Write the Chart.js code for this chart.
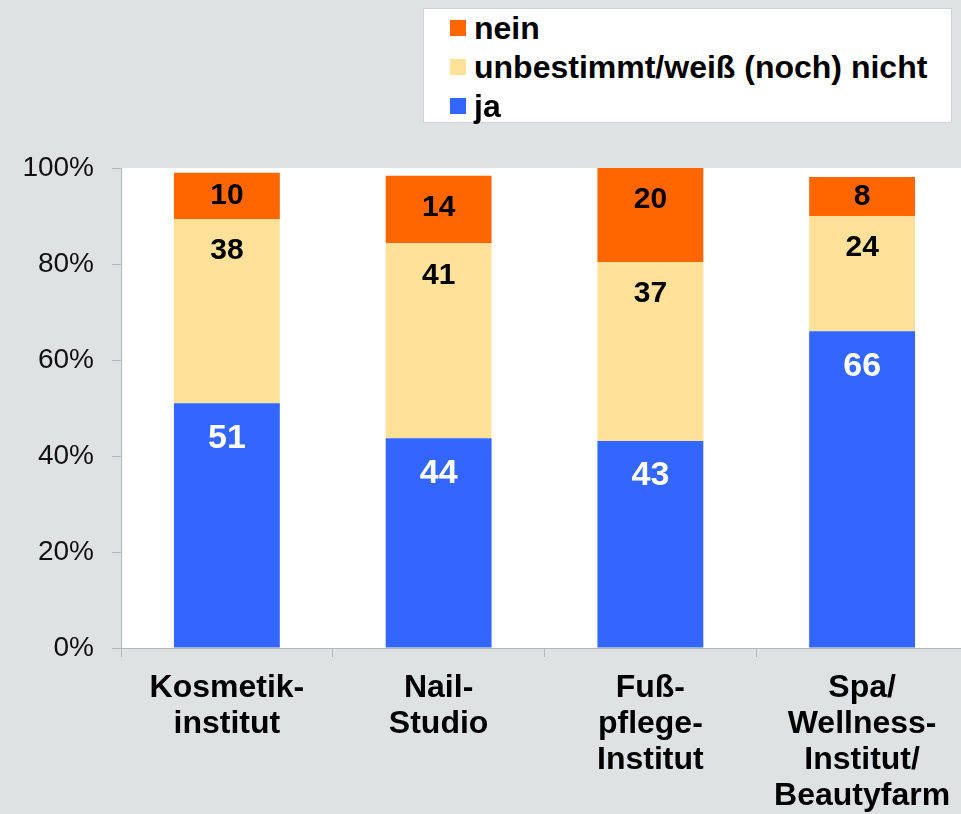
<!DOCTYPE html>
<html>
<head>
<meta charset="utf-8">
<script src="https://cdn.jsdelivr.net/npm/chart.js@4"></script>
<style>
  body { margin: 0; background: #dfe2e3; font-family: "Liberation Sans", Arial, sans-serif; overflow: hidden; }
  #wrap { position: relative; width: 961px; height: 814px; overflow: hidden; }
  #legend { position: absolute; left: 423px; top: 8px; width: 527px; height: 113px; background: #fff; border: 1px solid #d0d3d4; }
  .leg-row { position: absolute; left: 26px; height: 36px; display: flex; align-items: center; font-weight: bold; font-size: 32px; color: #000; white-space: nowrap; }
  .leg-box { width: 16px; height: 16px; margin-right: 8px; }
</style>
</head>
<body>
<div id="wrap">
  <!-- plot runs a few px past the right edge, as in the original -->
  <canvas id="chart" width="968" height="814"></canvas>
  <div id="legend"></div>
</div>
<script>
const categories = [["Kosmetik-", "institut"], ["Nail-", "Studio"], ["Fuß-", "pflege-", "Institut"], ["Spa/", "Wellness-", "Institut/", "Beautyfarm"]];
// segment heights; the printed labels are these rounded
const jaValues = [51.0, 43.7, 43.1, 66.0];
const unbestimmtValues = [38.4, 40.6, 37.3, 24.0];
const neinValues = [9.6, 14.1, 19.6, 8.1];
const yTicks = [0, 20, 40, 60, 80, 100];

const seriesNames = ["ja", "unbestimmt/weiß (noch) nicht", "nein"];
const seriesColors = ["#3366ff", "#ffe19a", "#ff6600"];
const labelColors = ["#ffffff", "#000000", "#000000"];

// white plot background
const plotBg = {
    id: "plotBg",
    beforeDraw(chart) {
        let a = chart.chartArea;
        chart.ctx.save();
        chart.ctx.fillStyle = "#ffffff";
        chart.ctx.fillRect(a.left, a.top, a.right - a.left, a.bottom - a.top);
        chart.ctx.restore();
    }
};

// numbers inside the segments
const segLabels = {
    id: "segLabels",
    afterDatasetsDraw(chart) {
        let ctx = chart.ctx;
        ctx.save();
        ctx.textAlign = "center";
        ctx.textBaseline = "middle";
        chart.data.datasets.forEach((ds, i) => {
            let meta = chart.getDatasetMeta(i);
            ctx.fillStyle = labelColors[i];
            ctx.font = (i == 0 ? "bold 34px" : "bold 30px") + " 'Liberation Sans', Arial, sans-serif";
            meta.data.forEach((el, j) => {
                let top = Math.min(el.y, el.base);
                let mid = (el.y + el.base) / 2;
                let y = Math.min(mid, top + (i == 0 ? 35 : 32));
                ctx.fillText(Math.round(ds.data[j]), el.x, y);
            });
        });
        ctx.restore();
    }
};

const ctx = document.getElementById("chart");
const chart = new Chart(ctx, {
    type: "bar",
    data: {
        labels: categories,
        datasets: [
            { label: seriesNames[0], data: jaValues, backgroundColor: seriesColors[0] },
            { label: seriesNames[1], data: unbestimmtValues, backgroundColor: seriesColors[1] },
            { label: seriesNames[2], data: neinValues, backgroundColor: seriesColors[2] },
        ],
    },
    options: {
        responsive: false,
        animation: false,
        devicePixelRatio: 1,
        layout: { padding: { top: 168, right: 0, bottom: 0, left: 0 } },
        datasets: { bar: { barPercentage: 0.5, categoryPercentage: 1, borderWidth: 0 } },
        plugins: { legend: { display: false }, tooltip: { enabled: false } },
        scales: {
            x: {
                stacked: true,
                afterFit: (s) => { s.height = 166 },
                grid: { drawOnChartArea: false, tickLength: 9, color: "#b4b7b8", offset: true },
                border: { color: "#b4b7b8" },
                ticks: {
                    color: "#000",
                    padding: 13,
                    font: { family: "'Liberation Sans', Arial, sans-serif", size: 32, weight: "bold", lineHeight: 1.13 },
                    maxRotation: 0,
                    autoSkip: false,
                },
            },
            y: {
                stacked: true,
                min: 0,
                max: 100,
                afterFit: (s) => { s.width = 121 },
                afterBuildTicks: (s) => { s.ticks = yTicks.map(v => ({ value: v })) },
                grid: { drawOnChartArea: false, tickLength: 9, color: "#b4b7b8" },
                border: { color: "#b4b7b8" },
                ticks: {
                    color: "#111",
                    padding: 18,
                    font: { family: "'Liberation Sans', Arial, sans-serif", size: 28 },
                    callback: (v) => v + "%",
                },
            },
        },
    },
    plugins: [plotBg, segLabels],
});

// legend box, top to bottom: nein, unbestimmt, ja
let legend = document.getElementById("legend");
[2, 1, 0].forEach((idx, row) => {
    let div = document.createElement("div");
    div.className = "leg-row";
    div.style.top = (1 + row * 39) + "px";
    div.innerHTML = `<div class="leg-box" style="background:${seriesColors[idx]}"></div>${seriesNames[idx]}`;
    legend.appendChild(div);
});
</script>
</body>
</html>
